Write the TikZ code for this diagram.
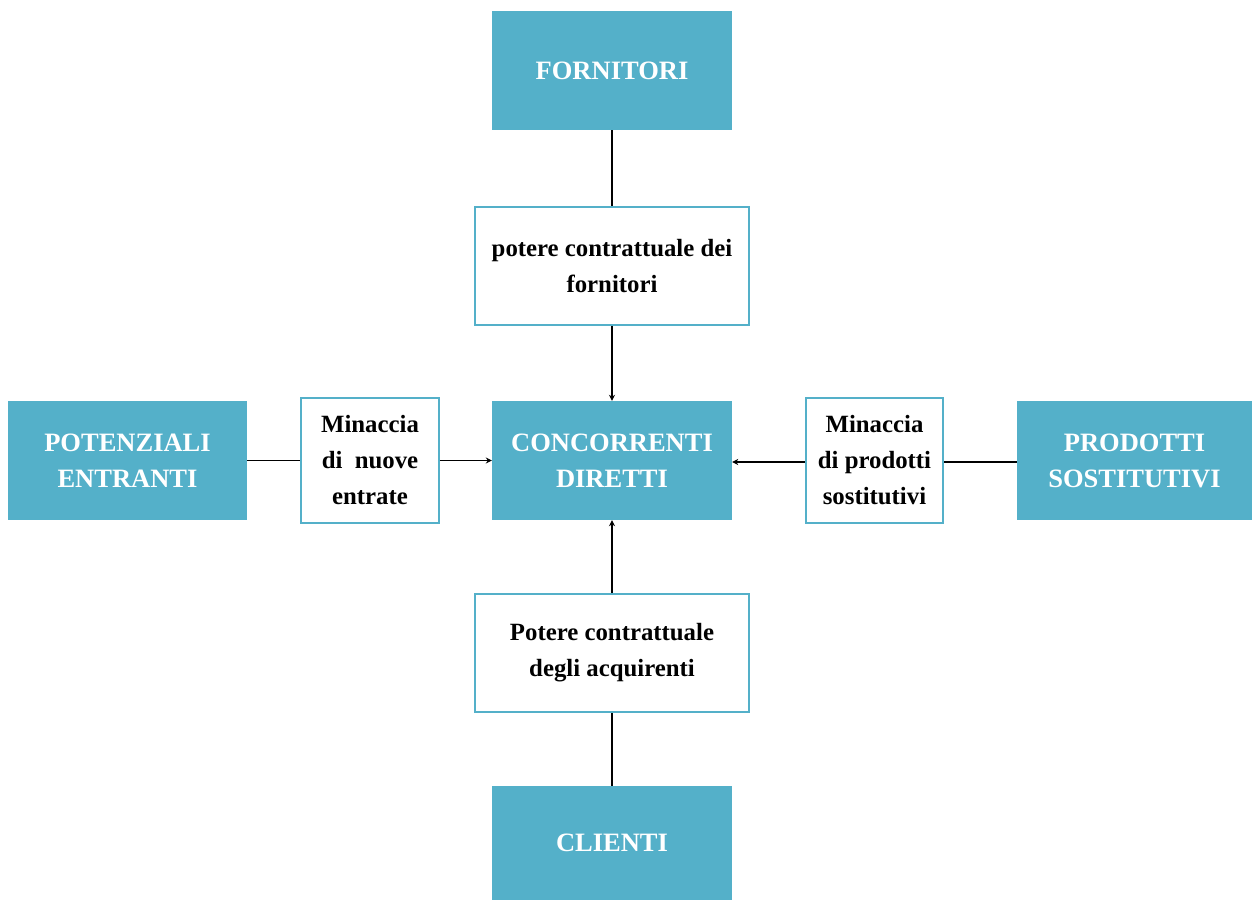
\documentclass[tikz,border=0pt]{standalone}
\usepackage{fontspec}
\setmainfont{Liberation Serif}
\usetikzlibrary{arrows.meta}
\definecolor{teal5}{RGB}{84,176,201}
\begin{document}
\begin{tikzpicture}[x=1pt,y=-1pt,
  force/.style={fill=teal5,draw=none,text=white,font=\fontsize{26.5}{36}\selectfont\bfseries,align=center,inner sep=0pt},
  factor/.style={draw=teal5,line width=1.6pt,fill=white,text=black,font=\fontsize{24.8}{36}\selectfont\bfseries,align=center,inner sep=0pt},
  link/.style={draw=black,line width=1.4pt},
  arr/.style={link,-{Stealth[length=6pt,width=6pt]}}]
\useasboundingbox (0,0) rectangle (1253,901);
% main forces
\node[force,minimum width=240pt,minimum height=119pt] (forn) at (612,70.5) {FORNITORI};
\node[force,minimum width=240pt,minimum height=119pt] (conc) at (612,460.5) {CONCORRENTI\\DIRETTI};
\node[force,minimum width=240pt,minimum height=114pt] (cli) at (612,843) {CLIENTI};
\node[force,minimum width=239pt,minimum height=119pt] (pot) at (127.5,460.5) {POTENZIALI\\ENTRANTI};
\node[force,minimum width=235pt,minimum height=119pt] (prod) at (1134.5,460.5) {PRODOTTI\\SOSTITUTIVI};
% intermediate factors
\node[factor,minimum width=274pt,minimum height=118pt] (pf) at (612,266) {potere contrattuale dei\\fornitori};
\node[factor,minimum width=274pt,minimum height=118pt] (pa) at (612,653) {Potere contrattuale\\degli acquirenti};
\node[factor,minimum width=138pt,minimum height=125pt] (mn) at (370,460.5) {Minaccia\\di\ \ nuove\\entrate};
\node[factor,minimum width=137pt,minimum height=125pt] (mp) at (874.5,460.5) {Minaccia\\di prodotti\\sostitutivi};
% connectors
\draw[link] (forn.south) -- (pf.north);
\draw[arr] (pf.south) -- (conc.north);
\draw[link] (cli.north) -- (pa.south);
\draw[arr] (pa.north) -- (conc.south);
\draw[link] (pot.east) -- (mn.west);
\draw[arr] (mn.east) -- (conc.west);
\draw[link] ([yshift=-1.5pt]prod.west) -- ([yshift=-1.5pt]mp.east);
\draw[arr] ([yshift=-1.5pt]mp.west) -- ([yshift=-1.5pt]conc.east);
\end{tikzpicture}
\end{document}
